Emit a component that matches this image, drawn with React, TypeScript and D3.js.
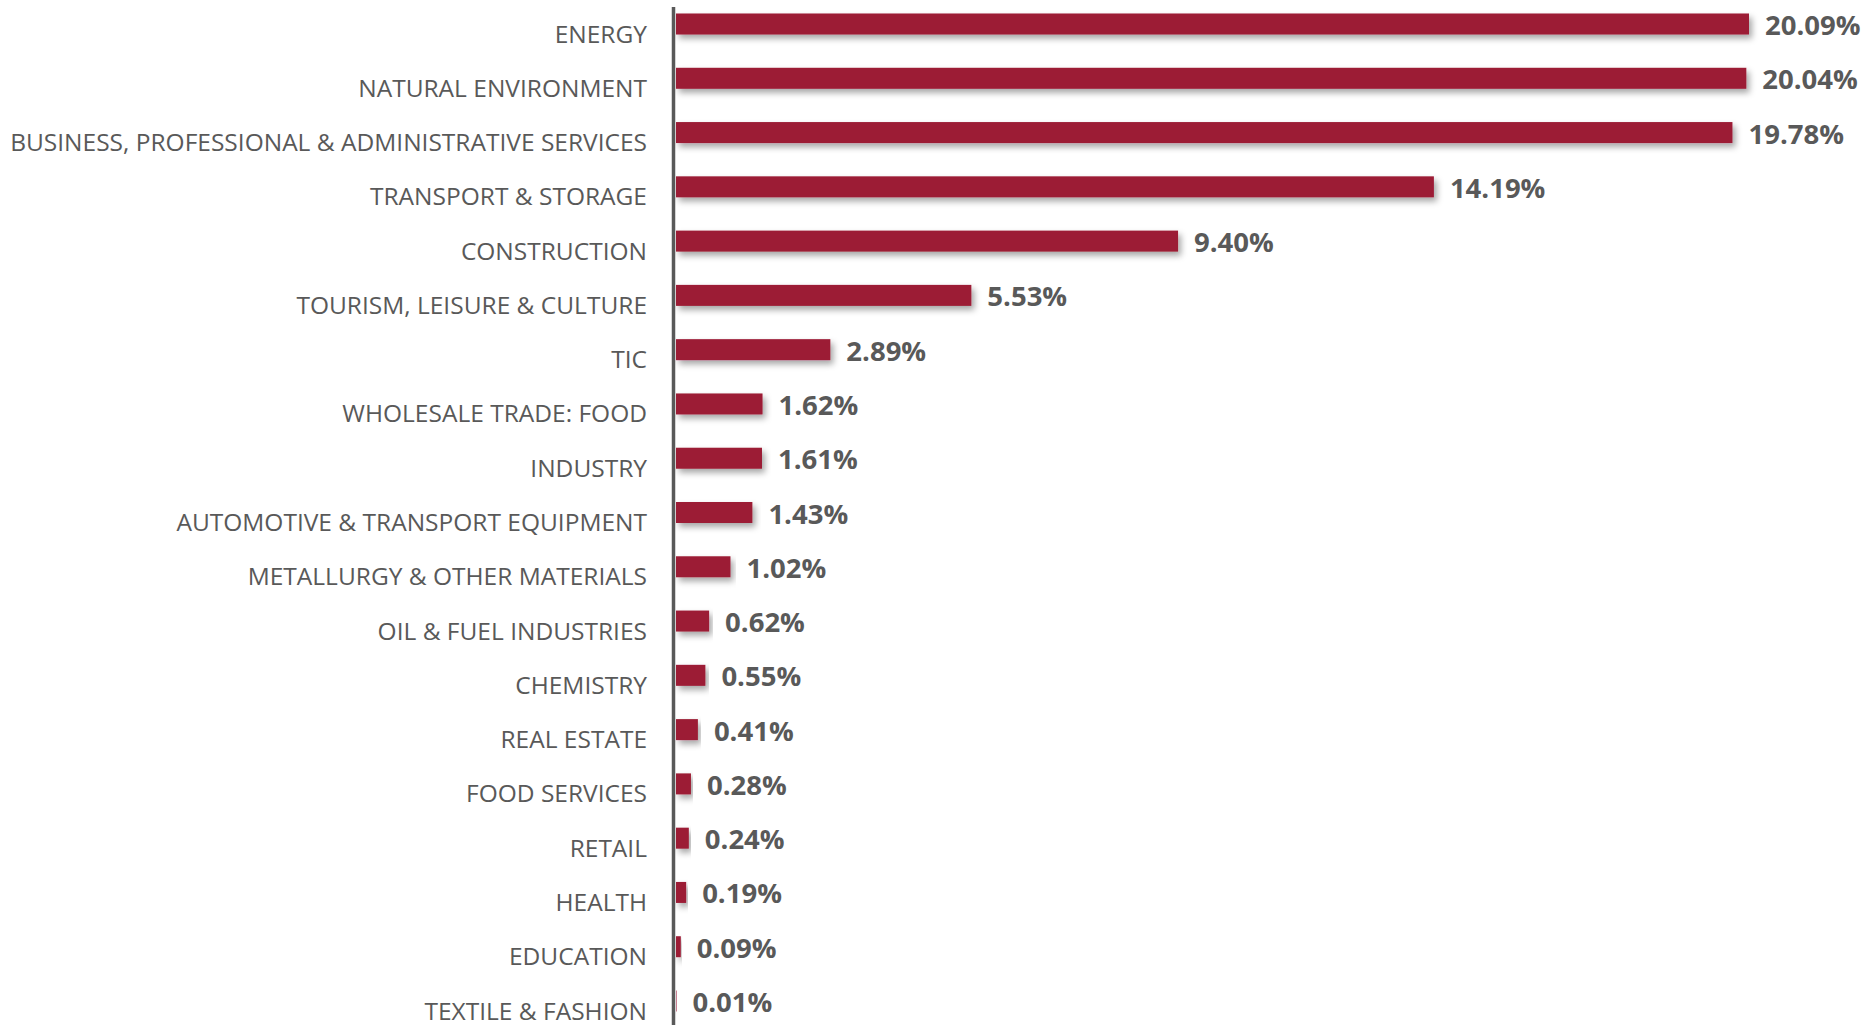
import * as d3 from "d3";

const categories = [
  "ENERGY",
  "NATURAL ENVIRONMENT",
  "BUSINESS, PROFESSIONAL & ADMINISTRATIVE SERVICES",
  "TRANSPORT & STORAGE",
  "CONSTRUCTION",
  "TOURISM, LEISURE & CULTURE",
  "TIC",
  "WHOLESALE TRADE: FOOD",
  "INDUSTRY",
  "AUTOMOTIVE & TRANSPORT EQUIPMENT",
  "METALLURGY & OTHER MATERIALS",
  "OIL & FUEL INDUSTRIES",
  "CHEMISTRY",
  "REAL ESTATE",
  "FOOD SERVICES",
  "RETAIL",
  "HEALTH",
  "EDUCATION",
  "TEXTILE & FASHION",
];

const shares = [
  20.09, 20.04, 19.78, 14.19, 9.4, 5.53, 2.89, 1.62, 1.61, 1.43, 1.02, 0.62,
  0.55, 0.41, 0.28, 0.24, 0.19, 0.09, 0.01,
];

const W = 1866;
const H = 1025;
const BAR_COLOR = "#9c1c35";
const TEXT_COLOR = "#595959";

export default function App() {
  const x = d3.scaleLinear().domain([0, 20.09]).range([676, 1749]);
  const y = d3.scalePoint<string>().domain(categories).range([24, 1001]);
  const barH = 21;
  const axisX = 673.5;

  const rows = categories.map((c, i) => ({ c, v: shares[i] }));

  return (
    <svg
      width={W}
      height={H}
      style={{ position: "absolute", left: 0, top: 0, background: "#fff" }}
    >
      <defs>
        <filter id="shadow" x="-5%" y="-50%" width="115%" height="250%">
          <feDropShadow dx="3" dy="4" stdDeviation="3" floodColor="#000" floodOpacity="0.35" />
        </filter>
      </defs>

      {/* bars */}
      {rows.map((r) => (
        <rect
          key={r.c}
          x={x(0)}
          y={(y(r.c) ?? 0) - barH / 2}
          width={Math.max(0, x(r.v) - x(0))}
          height={barH}
          fill={BAR_COLOR}
          filter="url(#shadow)"
        />
      ))}

      {/* category axis */}
      <line x1={axisX} x2={axisX} y1={7} y2={H} stroke={TEXT_COLOR} strokeWidth={3.5} />

      {rows.map((r) => (
        <text
          key={"l-" + r.c}
          x={647}
          y={(y(r.c) ?? 0) + 18.5}
          textAnchor="end"
          fill={TEXT_COLOR}
          style={{ fontFamily: "'Open Sans', sans-serif", fontSize: 24.5 }}
        >
          {r.c}
        </text>
      ))}

      {/* value labels */}
      {rows.map((r) => (
        <text
          key={"v-" + r.c}
          x={x(r.v) + 16}
          y={(y(r.c) ?? 0) + 11}
          fill={TEXT_COLOR}
          style={{ fontFamily: "'Open Sans', sans-serif", fontSize: 27.5, fontWeight: 700 }}
        >
          {r.v.toFixed(2) + "%"}
        </text>
      ))}
    </svg>
  );
}
